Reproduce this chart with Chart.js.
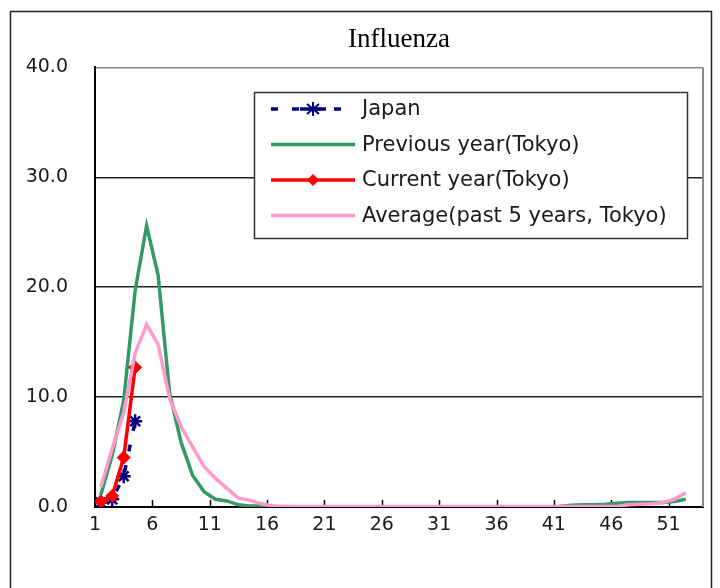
<!DOCTYPE html>
<html lang="en">
<head>
    <meta charset="UTF-8">
    <title>Influenza</title>
    <script src="https://cdn.jsdelivr.net/npm/chart.js@4.4.1/dist/chart.umd.min.js"></script>
    <style>
        body{
            margin: 0;
            padding: 0;
            background-color: white;
        }
        .container{
            width: 720px;
            height: 588px;
        }
    </style>
</head>
<body>
    <div class="container">
        <canvas id="mychart" width="720" height="588"></canvas>
    </div>
    <script>
        // week numbers (categories)
        const weeks = [1,2,3,4,5,6,7,8,9,10,11,12,13,14,15,16,17,18,19,20,21,22,23,24,25,26,
                       27,28,29,30,31,32,33,34,35,36,37,38,39,40,41,42,43,44,45,46,47,48,49,50,51,52];
        const tickLabels = ['1','6','11','16','21','26','31','36','41','46','51'];
        const seriesNames = ['Japan','Previous year(Tokyo)','Current year(Tokyo)','Average(past 5 years, Tokyo)'];

        const japan = [0.4, 0.7, 2.8, 7.8];
        const currentYear = [0.5, 1.0, 4.5, 12.7];
        const previousYear = [1.1, 4.7, 9.7, 19.7, 25.6, 21.1, 10.4, 5.9, 2.9, 1.4,
                              0.7, 0.55, 0.2, 0.1, 0.1, 0.05, 0.0, 0.0, 0.0, 0.0,
                              0.0, 0.0, 0.0, 0.0, 0.0, 0.0, 0.0, 0.0, 0.0, 0.0,
                              0.0, 0.0, 0.0, 0.0, 0.0, 0.0, 0.0, 0.0, 0.0, 0.0,
                              0.05, 0.15, 0.2, 0.2, 0.25, 0.35, 0.4, 0.4, 0.4, 0.4,
                              0.5, 0.7];
        const average = [1.8, 5.3, 8.6, 14.0, 16.6, 14.8, 9.9, 7.3, 5.5, 3.7,
                         2.6, 1.7, 0.8, 0.6, 0.3, 0.1, 0.05, 0.05, 0.05, 0.05,
                         0.05, 0.05, 0.05, 0.05, 0.05, 0.05, 0.05, 0.05, 0.05, 0.05,
                         0.05, 0.05, 0.05, 0.05, 0.05, 0.05, 0.05, 0.05, 0.05, 0.05,
                         0.05, 0.05, 0.05, 0.05, 0.05, 0.05, 0.2, 0.25, 0.3, 0.4,
                         0.7, 1.3];

        // points sit in the middle of each week slot
        function toPoints(values){
            return values.map(function(v, i){ return {x: weeks[i] - 0.5, y: v}; });
        }

        const frame = {
            id: 'frame',
            beforeDraw: function(chart){
                const c = chart.ctx;
                c.save();
                c.fillStyle = 'white';
                c.fillRect(0, 0, chart.width, chart.height);
                c.strokeStyle = '#222';
                c.lineWidth = 1.5;
                c.strokeRect(10.5, 11.5, 701, 620);
                c.restore();
            },
            beforeDatasetsDraw: function(chart){
                const c = chart.ctx;
                const a = chart.chartArea;
                const xs = chart.scales.x;
                c.save();
                // right border of plot area
                c.strokeStyle = '#888';
                c.lineWidth = 2;
                c.beginPath();
                c.moveTo(a.right, a.top);
                c.lineTo(a.right, a.bottom);
                c.stroke();
                // tick marks pointing inward
                c.strokeStyle = '#000';
                c.lineWidth = 1.5;
                xs.ticks.forEach(function(t){
                    if (t.value <= 0) return;
                    const px = Math.round(xs.getPixelForValue(t.value)) + 0.5;
                    c.beginPath();
                    c.moveTo(px, a.bottom);
                    c.lineTo(px, a.bottom - 7);
                    c.stroke();
                });
                c.restore();
            },
            afterDraw: function(chart){
                const c = chart.ctx;
                const box = {x: 254.5, y: 92.5, w: 433, h: 146};
                c.save();
                c.fillStyle = 'white';
                c.fillRect(box.x, box.y, box.w, box.h);
                c.strokeStyle = '#333';
                c.lineWidth = 1.5;
                c.strokeRect(box.x, box.y, box.w, box.h);
                c.font = '21px "DejaVu Sans"';
                c.textBaseline = 'middle';
                c.fillStyle = '#1a1a1a';
                chart.data.datasets.forEach(function(ds, i){
                    const y = 109 + i * 35.5;
                    const x0 = 271, x1 = 355, xm = (x0 + x1) / 2;
                    c.save();
                    c.strokeStyle = ds.borderColor;
                    c.lineWidth = ds.borderWidth;
                    c.setLineDash(ds.borderDash || []);
                    c.beginPath();
                    c.moveTo(x0, y);
                    c.lineTo(x1, y);
                    c.stroke();
                    c.setLineDash([]);
                    if (ds.pointStyle === 'rectRot'){
                        c.fillStyle = ds.pointBackgroundColor;
                        c.beginPath();
                        c.moveTo(xm, y - 6);
                        c.lineTo(xm + 6, y);
                        c.lineTo(xm, y + 6);
                        c.lineTo(xm - 6, y);
                        c.closePath();
                        c.fill();
                    } else if (ds.pointStyle === 'star'){
                        c.strokeStyle = ds.pointBorderColor;
                        c.lineWidth = 3.5;
                        c.beginPath();
                        c.moveTo(xm - 13, y); c.lineTo(xm + 13, y);
                        c.stroke();
                        c.lineWidth = 2;
                        c.beginPath();
                        c.moveTo(xm, y - 7); c.lineTo(xm, y + 7);
                        c.moveTo(xm - 6, y - 5); c.lineTo(xm + 6, y + 5);
                        c.moveTo(xm - 6, y + 5); c.lineTo(xm + 6, y - 5);
                        c.stroke();
                    }
                    c.restore();
                    c.fillText(seriesNames[i], 362, y + 1);
                });
                c.restore();
            }
        };

        const mychart = document.getElementById('mychart').getContext('2d');
        const linechart = new Chart(mychart, {
            type: 'line',
            data: {
                datasets: [{
                    label: seriesNames[0],
                    data: toPoints(japan),
                    borderColor: '#000080',
                    borderWidth: 3.5,
                    borderDash: [7, 14],
                    pointStyle: 'star',
                    pointRadius: 7,
                    pointBorderWidth: 2.5,
                    pointBorderColor: '#000080',
                    pointBackgroundColor: '#000080',
                    order: 4
                }, {
                    label: seriesNames[1],
                    data: toPoints(previousYear),
                    borderColor: '#339966',
                    borderWidth: 3.5,
                    pointRadius: 0,
                    order: 3
                }, {
                    label: seriesNames[2],
                    data: toPoints(currentYear),
                    borderColor: '#ff0000',
                    borderWidth: 3.5,
                    pointStyle: 'rectRot',
                    pointRadius: 6.5,
                    pointBorderWidth: 1,
                    pointBorderColor: '#ff0000',
                    pointBackgroundColor: '#ff0000',
                    order: 2
                }, {
                    label: seriesNames[3],
                    data: toPoints(average),
                    borderColor: '#ff99cc',
                    borderWidth: 3.5,
                    pointRadius: 0,
                    order: 1
                }]
            },
            options: {
                responsive: false,
                animation: false,
                layout: {
                    padding: {left: 0, right: 17, top: 0, bottom: 0}
                },
                plugins: {
                    legend: {display: false},
                    tooltip: {enabled: false},
                    title: {
                        display: true,
                        text: 'Influenza',
                        fullSize: false,
                        color: '#000',
                        font: {family: '"Liberation Serif", serif', size: 27, weight: 'normal'},
                        padding: {top: 24, bottom: 11}
                    }
                },
                scales: {
                    x: {
                        type: 'linear',
                        min: 0,
                        max: 53,
                        afterFit: function(scale){ scale.height = 81; },
                        border: {color: '#000', width: 2},
                        grid: {drawOnChartArea: false, drawTicks: false},
                        ticks: {
                            stepSize: 5,
                            includeBounds: false,
                            autoSkip: false,
                            maxRotation: 0,
                            padding: 7,
                            color: '#1a1a1a',
                            font: {family: '"DejaVu Sans"', size: 19},
                            callback: function(v, i){ return tickLabels[i]; }
                        }
                    },
                    y: {
                        min: 0,
                        max: 40,
                        afterFit: function(scale){ scale.width = 95; },
                        border: {color: '#000', width: 2},
                        grid: {
                            drawTicks: false,
                            lineWidth: 1.5,
                            color: function(ctx){ return ctx.tick && ctx.tick.value === 40 ? '#888' : '#222'; }
                        },
                        ticks: {
                            stepSize: 10,
                            padding: 27,
                            color: '#1a1a1a',
                            font: {family: '"DejaVu Sans"', size: 19},
                            callback: function(v){ return v.toFixed(1); }
                        }
                    }
                }
            },
            plugins: [frame]
        });
    </script>
</body>
</html>
